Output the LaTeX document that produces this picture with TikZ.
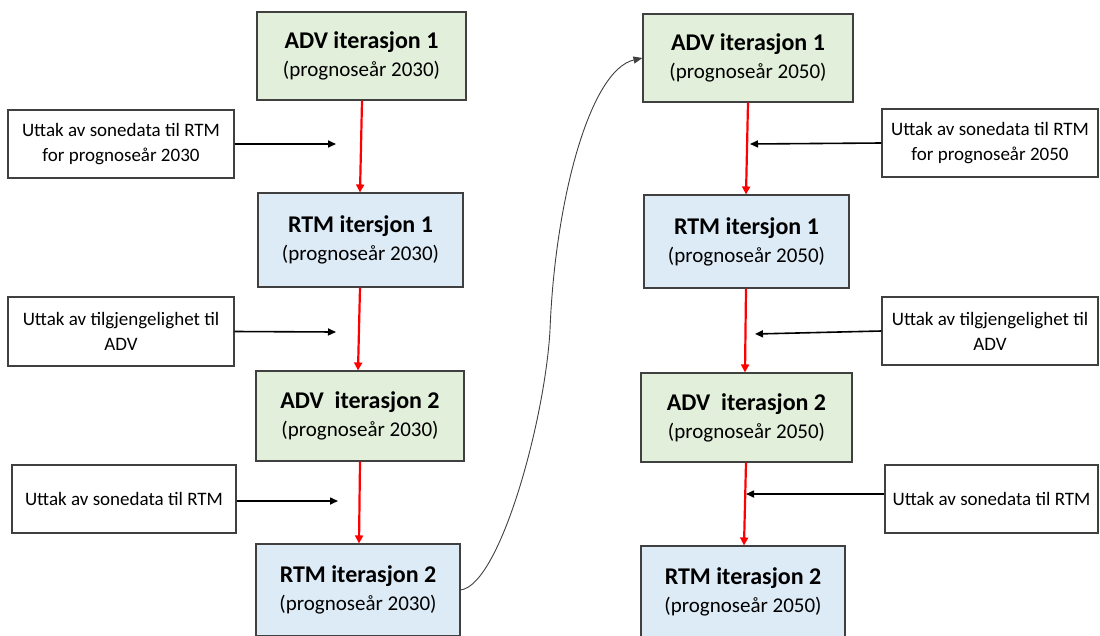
\documentclass[tikz,border=0pt]{standalone}
\usepackage{fontspec}
\setmainfont{Carlito}
\usetikzlibrary{arrows.meta}
\definecolor{advgreen}{HTML}{E2EFDA}
\definecolor{rtmblue}{HTML}{DDEBF7}
\definecolor{boxline}{HTML}{404040}
\tikzset{
  stage/.style={draw=boxline, line width=1.1pt, inner sep=0pt, align=center,
    font=\fontsize{21}{28}\selectfont},
  advbox/.style={stage, fill=advgreen},
  rtmbox/.style={stage, fill=rtmblue},
  notebox/.style={draw=boxline, line width=1.1pt, fill=white, inner sep=0pt, align=center,
    font=\fontsize{19}{25}\selectfont},
  flow/.style={draw=red, line width=2.2pt, -{Triangle[length=8pt,width=8pt]}},
  feed/.style={draw=black, line width=1.6pt, -{Triangle[length=8pt,width=7pt]}},
  jump/.style={draw=black!75, line width=0.9pt, -{Triangle[length=9pt,width=7pt]}}
}
\newcommand{\stagetext}[2]{{\fontsize{24}{28}\selectfont\bfseries #1}\\{#2}}
\begin{document}
\begin{tikzpicture}[x=1pt,y=-1pt]
\useasboundingbox (0,0) rectangle (1100,635);
\clip (0,0) rectangle (1100,635);

% left column: forecast year 2030
\node[advbox, minimum width=209pt, minimum height=88pt] (adv1l) at (361.5,56) {\stagetext{ADV iterasjon 1}{(prognoseår 2030)}};
\node[rtmbox, minimum width=205pt, minimum height=94pt] (rtm1l) at (360.5,240) {\stagetext{RTM itersjon 1}{(prognoseår 2030)}};
\node[advbox, minimum width=208pt, minimum height=90pt] (adv2l) at (360,416) {\stagetext{ADV\ \ iterasjon 2}{(prognoseår 2030)}};
\node[rtmbox, minimum width=204pt, minimum height=92pt] (rtm2l) at (358,590) {\stagetext{RTM iterasjon 2}{(prognoseår 2030)}};

% right column: forecast year 2050
\node[advbox, minimum width=210pt, minimum height=88pt] (adv1r) at (748,58) {\stagetext{ADV iterasjon 1}{(prognoseår 2050)}};
\node[rtmbox, minimum width=205pt, minimum height=93pt] (rtm1r) at (746.5,241.5) {\stagetext{RTM itersjon 1}{(prognoseår 2050)}};
\node[advbox, minimum width=211pt, minimum height=89pt] (adv2r) at (746.5,417.5) {\stagetext{ADV\ \ iterasjon 2}{(prognoseår 2050)}};
\node[rtmbox, minimum width=204pt, minimum height=92pt] (rtm2r) at (743,592) {\stagetext{RTM iterasjon 2}{(prognoseår 2050)}};

% data extraction notes
\node[notebox, minimum width=226pt, minimum height=68pt] (n1l) at (121,144) {Uttak av sonedata til RTM\\for prognoseår 2030};
\node[notebox, minimum width=226pt, minimum height=69pt] (n2l) at (121,331.5) {Uttak av tilgjengelighet til\\ADV};
\node[notebox, minimum width=224pt, minimum height=68pt] (n3l) at (124,499) {Uttak av sonedata til RTM};
\node[notebox, minimum width=216pt, minimum height=68pt] (n1r) at (990,143) {Uttak av sonedata til RTM\\for prognoseår 2050};
\node[notebox, minimum width=216pt, minimum height=68pt] (n2r) at (990,331) {Uttak av tilgjengelighet til\\ADV};
\node[notebox, minimum width=213pt, minimum height=68pt] (n3r) at (991.5,499) {Uttak av sonedata til RTM};

% free ends of the note arrows
\coordinate (t1l) at (336,144);
\coordinate (t2l) at (336,332);
\coordinate (t3l) at (338,501);
\coordinate (t1r) at (750,144);
\coordinate (t2r) at (755,334);
\coordinate (t3r) at (746,494);
\coordinate (bend) at (550,330);

% main sequence
\draw[flow] (adv1l.south -| 362,0) -- (rtm1l.north -| 360,0);
\draw[flow] (rtm1l.south -| 360,0) -- (adv2l.north -| 358,0);
\draw[flow] (adv2l.south -| 360,0) -- (rtm2l.north -| 359,0);
\draw[flow] (adv1r.south -| 748,0) -- (rtm1r.north -| 746,0);
\draw[flow] (rtm1r.south -| 746,0) -- (adv2r.north -| 745,0);
\draw[flow] (adv2r.south -| 746,0) -- (rtm2r.north -| 744,0);

% note arrows
\draw[feed] (n1l.east) -- (t1l);
\draw[feed] (n2l.east) -- (t2l);
\draw[feed] (n3l.east |- t3l) -- (t3l);
\draw[feed] (n1r.west) -- (t1r);
\draw[feed] (n2r.west) -- (t2r);
\draw[feed] (n3r.west |- t3r) -- (t3r);

% hand-over from 2030 to 2050
\draw[jump] (rtm2l.east) .. controls (500,585) and (545,420) .. (bend)
  .. controls (555,200) and (590,70) .. (adv1r.west);
\end{tikzpicture}
\end{document}
